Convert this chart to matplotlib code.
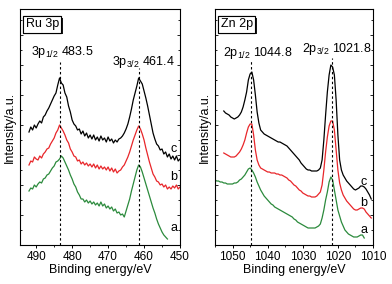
import matplotlib
matplotlib.use("Agg")
import matplotlib.pyplot as plt
import numpy as np
from matplotlib import patheffects as pe
from matplotlib.ticker import MultipleLocator

plt.rcParams['font.family'] = ['Liberation Sans', 'DejaVu Sans']
plt.rcParams['mathtext.fontset'] = 'custom'
plt.rcParams['mathtext.rm'] = 'Liberation Sans'
plt.rcParams['mathtext.it'] = 'Liberation Sans:italic'
plt.rcParams['mathtext.bf'] = 'Liberation Sans:bold'

# ---------------- data ----------------
# Ru 3p: binding energy grid start (eV) and step
ru_start = 492.0
ru_step = 0.5
ru_c = [113,118,115,120,117,121,124,122,128,130,
        134,137,141,145,149,152,160,167,162,160,
        152,148,139,133,125,121,119,115,116,111,
        114,109,112,107,110,106,110,105,108,104,
        109,105,107,103,108,104,106,102,105,103,
        106,107,109,112,116,121,128,136,145,152,
        159,167,164,161,154,147,139,130,121,112,
        106,101,99,95,96,91,93,88,91,86,
        89,85,89,84,86]
ru_b = [80,84,83,88,86,85,89,87,91,93,
        96,97,101,104,107,112,115,120,117,114,
        110,105,102,96,93,89,88,84,85,81,
        83,80,82,79,81,78,81,77,80,76,
        79,76,78,75,78,74,77,73,76,72,
        74,75,78,80,84,88,93,99,105,110,
        115,119,116,111,105,97,90,83,77,71,
        68,64,63,60,61,58,60,56,58,56,
        59,57,60,56,58]
ru_a = [54,57,56,60,58,61,63,62,66,67,
        70,71,74,77,79,83,84,86,89,87,
        83,79,75,70,66,61,58,53,50,46,
        46,43,45,42,44,41,43,40,42,39,
        43,39,41,37,39,36,38,34,36,32,
        33,30,31,28,34,40,46,54,61,68,
        75,80,78,73,67,61,55,49,43,37,
        32,26,21,17,13,10,8,6]

# Zn 2p
zn_bc_start = 1052.5
zn_a_start = 1055.0
zn_step = 0.5
zn_c = [134,132,131,130,128,127,126,127,128,130,
        133,138,145,153,165,171,173,165,150,133,
        122,115,113,111,110,109,108,107,106,105,
        104,103,103,102,101,100,99,97,95,93,
        91,89,87,85,82,80,78,76,75,75,
        74,74,74,74,75,77,85,105,130,153,
        170,180,178,170,145,110,85,75,70,67,
        64,62,60,58,56,55,56,57,59,59,
        58,56,53,50,46]
zn_b = [92,91,90,89,88,88,88,89,91,93,
        96,100,105,112,118,121,121,110,95,85,
        80,77,76,75,74,73,73,72,72,72,
        71,71,70,70,69,68,67,65,64,62,
        60,59,57,55,54,52,51,50,49,49,
        48,48,48,49,51,53,60,75,93,108,
        119,124,124,115,95,75,62,55,50,47,
        44,42,40,38,36,35,35,36,37,37,
        36,33,31,29,27]
zn_a = [65,64,64,63,63,62,62,61,61,61,
        61,62,62,63,65,66,68,70,73,76,
        77,75,72,68,63,59,55,52,49,47,
        45,43,41,40,38,37,36,35,34,33,
        32,31,30,29,28,26,25,23,22,21,
        20,19,18,17,17,17,17,17,18,19,
        21,27,35,45,53,63,68,65,55,45,
        35,29,23,19,15,13,11,10,9,8,
        8,8,9,10,10,7]

ru_peaks = [483.5, 461.4]
zn_peaks = [1044.8, 1021.8]
ru_peak_labels = ["3p$\\mathregular{_{1/2}}$ 483.5", "3p$\\mathregular{_{3/2}}$ 461.4"]
zn_peak_labels = ["2p$\\mathregular{_{1/2}}$ 1044.8", "2p$\\mathregular{_{3/2}}$ 1021.8"]
curve_names = ["c", "b", "a"]
panel_titles = ["Ru 3p", "Zn 2p"]
ru_xticks = [490, 480, 470, 460, 450]
zn_xticks = [1050, 1040, 1030, 1020, 1010]

colors = ["black", "#e8262a", "#2b8a3c"]


def grid(start, step, vals):
    return start - step * np.arange(len(vals))


fig = plt.figure(figsize=(3.92, 2.84), dpi=100)
W, H = 392.0, 284.0
axL = fig.add_axes([20 / W, 39 / H, 160 / W, 236 / H])
axR = fig.add_axes([215 / W, 39 / H, 158 / W, 236 / H])

FS = 8.5

def style(ax, xlim, xticks):
    ax.set_xlim(*xlim)
    ax.set_ylim(0, 236)
    ax.set_xticks(xticks)
    ax.xaxis.set_minor_locator(MultipleLocator(5))
    ax.yaxis.set_major_locator(MultipleLocator(30))
    ax.yaxis.set_minor_locator(MultipleLocator(15))
    ax.tick_params(axis='x', which='major', direction='out', length=2.5, width=0.7,
                   labelsize=FS, pad=1.5)
    ax.tick_params(axis='x', which='minor', direction='out', length=1.5, width=0.6)
    ax.tick_params(axis='y', which='both', direction='in', left=True, right=True,
                   labelleft=False, width=0.6)
    ax.tick_params(axis='y', which='major', length=2.5)
    ax.tick_params(axis='y', which='minor', length=1.5)
    for s in ax.spines.values():
        s.set_linewidth(0.8)
    ax.set_xlabel("Binding energy/eV", fontsize=FS + 0.5, labelpad=1)
    ax.set_ylabel("Intensity/a.u.", fontsize=FS + 0.5, labelpad=3)


def title_box(ax, text, x, y):
    t = ax.text(x, y, text, transform=ax.transAxes, fontsize=FS + 0.5,
                ha='left', va='top',
                bbox=dict(boxstyle='square,pad=0.18', fc='white', ec='black', lw=0.8))
    t.get_bbox_patch().set_path_effects([
        pe.withSimplePatchShadow(offset=(1.3, -1.3), shadow_rgbFace='black', alpha=0.9),
        pe.Normal()])


# ---- Ru panel ----
for vals, col in zip([ru_c, ru_b, ru_a], colors):
    axL.plot(grid(ru_start, ru_step, vals), vals, color=col, lw=0.9)
style(axL, (494.5, 450), ru_xticks)
for xp, top in zip(ru_peaks, [183, 177]):
    axL.plot([xp, xp], [0, top], color='black', ls=(0, (2.2, 2.2)), lw=0.8)
axL.text(491.5, 193, ru_peak_labels[0], fontsize=FS + 0.5, ha='left', va='center')
axL.text(469.0, 183, ru_peak_labels[1], fontsize=FS + 0.5, ha='left', va='center')
for name, y in zip(curve_names, [96, 68, 17]):
    axL.text(451.7, y, name, fontsize=FS + 0.5, ha='center', va='center')
title_box(axL, panel_titles[0], 0.035, 0.96)

# ---- Zn panel ----
for vals, col, st in zip([zn_c, zn_b, zn_a], colors, [zn_bc_start, zn_bc_start, zn_a_start]):
    axR.plot(grid(st, zn_step, vals), vals, color=col, lw=0.9)
style(axR, (1055, 1010), zn_xticks)
for xp, top in zip(zn_peaks, [185, 187]):
    axR.plot([xp, xp], [0, top], color='black', ls=(0, (2.2, 2.2)), lw=0.8)
axR.text(1052.7, 192, zn_peak_labels[0], fontsize=FS + 0.5, ha='left', va='center')
axR.text(1030.3, 196, zn_peak_labels[1], fontsize=FS + 0.5, ha='left', va='center')
for name, y in zip(curve_names, [63, 42, 15]):
    axR.text(1012.6, y, name, fontsize=FS + 0.5, ha='center', va='center')
title_box(axR, panel_titles[1], 0.035, 0.96)

fig.savefig("out.png", dpi=100)
